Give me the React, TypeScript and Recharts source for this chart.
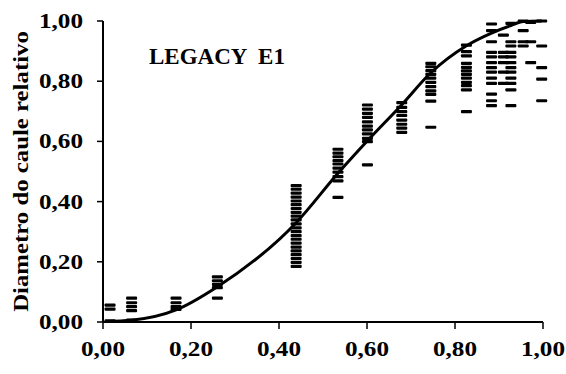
import React from 'react';
import { ComposedChart, Scatter, Line, XAxis, YAxis } from 'recharts';

const xTicks = [0, 0.2, 0.4, 0.6, 0.8, 1];
const yTicks = [0, 0.2, 0.4, 0.6, 0.8, 1];

// relative height (x) at which stems were sampled
const sampleX = [0.016, 0.065, 0.166, 0.26, 0.439, 0.534, 0.601, 0.679, 0.745, 0.826, 0.883, 0.91, 0.927, 0.955, 0.972, 0.997];

// relative stem diameter readings, one list per sampled height
const sampleY = [
  [0.056, 0.043, 0.004],
  [0.079, 0.064, 0.051, 0.038, 0.006],
  [0.079, 0.064, 0.051, 0.042],
  [0.15, 0.137, 0.125, 0.114, 0.079],
  [0.453, 0.441, 0.428, 0.415, 0.402, 0.39, 0.377, 0.364, 0.352, 0.339, 0.326, 0.313, 0.3, 0.287, 0.275, 0.262, 0.249, 0.236, 0.224, 0.211, 0.198, 0.185],
  [0.574, 0.561, 0.549, 0.536, 0.525, 0.511, 0.498, 0.483, 0.469, 0.414],
  [0.721, 0.707, 0.693, 0.68, 0.665, 0.651, 0.638, 0.625, 0.61, 0.599, 0.522],
  [0.729, 0.713, 0.699, 0.686, 0.671, 0.657, 0.644, 0.63],
  [0.859, 0.848, 0.835, 0.823, 0.81, 0.796, 0.782, 0.768, 0.756, 0.734, 0.647],
  [0.92, 0.898, 0.884, 0.859, 0.846, 0.834, 0.823, 0.81, 0.796, 0.785, 0.771, 0.699],
  [0.99, 0.968, 0.931, 0.896, 0.881, 0.862, 0.845, 0.83, 0.81, 0.793, 0.757, 0.735, 0.719],
  [0.953, 0.896, 0.881, 0.862, 0.83, 0.793],
  [0.992, 0.931, 0.917, 0.896, 0.881, 0.862, 0.845, 0.83, 0.81, 0.793, 0.771, 0.719],
  [1.0, 0.968, 0.931, 0.917],
  [0.995, 0.931, 0.862],
  [1.0, 0.917, 0.845, 0.807, 0.735],
];

// fitted taper curve
const fitX = [0.005, 0.065, 0.166, 0.26, 0.439, 0.534, 0.601, 0.679, 0.745, 0.826, 0.883, 0.927, 0.955, 0.997];
const fitY = [0.002, 0.006, 0.04, 0.117, 0.33, 0.494, 0.602, 0.722, 0.828, 0.918, 0.96, 0.985, 0.998, 1.0];

const points = sampleX.flatMap((x, i) => sampleY[i].map(y => ({ x, y })));
const fit = fitX.map((x, i) => ({ x, y: fitY[i] }));

const font = {
  fontFamily: "'Liberation Serif', 'Times New Roman', serif",
  fontWeight: 700,
  fill: '#000',
};

const fmt = (v: number) => v.toFixed(2).replace('.', ',');

function XTick({ x, y, payload }: any) {
  return (
    <text transform={`translate(${x},${y + 23}) scale(1.2,1)`} textAnchor="middle" fontSize={21} style={font}>
      {fmt(payload.value)}
    </text>
  );
}

function YTick({ x, y, payload }: any) {
  return (
    <text transform={`translate(${x},${y + 7}) scale(1.2,1)`} textAnchor="end" fontSize={21} style={font}>
      {fmt(payload.value)}
    </text>
  );
}

function YLabel({ viewBox }: any) {
  const cy = viewBox.y + viewBox.height / 2;
  return (
    <text transform={`translate(${viewBox.x + 28},${cy}) rotate(-90) scale(1.24,1)`} textAnchor="middle" fontSize={20} style={font}>
      Diametro do caule relativo
    </text>
  );
}

const Dash = (props: any) => (
  <rect x={props.cx - 5.5} y={props.cy - 1.6} width={11} height={3.2} rx={1} fill="#000" />
);

export default function App() {
  return (
    <div style={{ position: 'absolute', left: 0, top: 0, width: 566, height: 374, background: '#fff' }}>
      <ComposedChart width={566} height={374} margin={{ top: 21, right: 23, bottom: 0, left: 0 }}>
        <XAxis
          type="number"
          dataKey="x"
          domain={[0, 1]}
          ticks={xTicks}
          interval={0}
          height={52}
          tickSize={7}
          tickMargin={4}
          axisLine={{ stroke: '#000', strokeWidth: 2 }}
          tickLine={{ stroke: '#000', strokeWidth: 1.5 }}
          tick={<XTick />}
        />
        <YAxis
          type="number"
          dataKey="y"
          domain={[0, 1]}
          ticks={yTicks}
          interval={0}
          width={103}
          tickSize={6}
          tickMargin={14}
          axisLine={{ stroke: '#000', strokeWidth: 2 }}
          tickLine={{ stroke: '#000', strokeWidth: 1.5 }}
          tick={<YTick />}
          label={{ content: <YLabel /> }}
        />
        <Scatter data={points} dataKey="y" shape={<Dash />} isAnimationActive={false} />
        <Line data={fit} dataKey="y" type="monotone" stroke="#000" strokeWidth={3} dot={false} isAnimationActive={false} />
      </ComposedChart>
      <svg width={566} height={374} style={{ position: 'absolute', left: 0, top: 0, pointerEvents: 'none' }}>
        <text x={149} y={64} fontSize={23} style={font} xmlSpace="preserve">
          LEGACY  E1
        </text>
      </svg>
    </div>
  );
}
